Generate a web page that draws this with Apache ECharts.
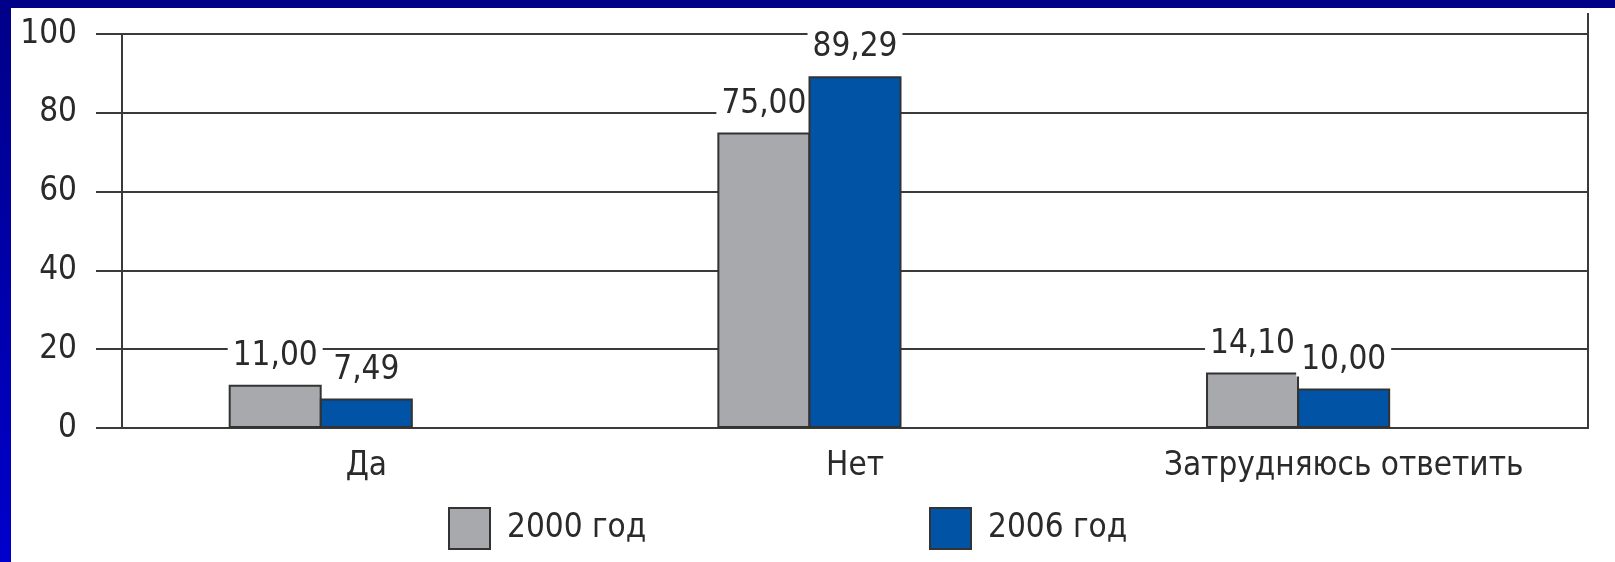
<!DOCTYPE html>
<html>
<head>
<meta charset="utf-8">
<script src="https://cdn.jsdelivr.net/npm/echarts@6/dist/echarts.min.js"></script>
<style>
    html, body {
        margin: 0;
        padding: 0;
        background: #fff;
    }
    #chart {
        position: absolute;
        left: 0;
        top: 0;
        width: 1615px;
        height: 562px;
        background: #fff;
    }
    /* синяя рамка слайда */
    .frame-left {
        position: absolute;
        left: 0;
        top: 0;
        width: 11px;
        height: 562px;
        background: linear-gradient(to bottom, #000088, #0000cc);
    }
    .frame-top {
        position: absolute;
        left: 0;
        top: 0;
        width: 1615px;
        height: 8px;
        background: #000088;
    }
</style>
</head>
<body>
<div id="chart"></div>
<div class="frame-top"></div>
<div class="frame-left"></div>
<script>
// данные
const categories = ['Да', 'Нет', 'Затрудняюсь ответить']
const values2000 = [11.00, 75.00, 14.10]
const values2006 = [7.49, 89.29, 10.00]
const yTicks = [0, 20, 40, 60, 80, 100]

const FONT = "'Liberation Sans Narrow', 'DejaVu Sans Condensed', sans-serif"
const LINE = '#3a3a3a'

const chart = echarts.init(document.getElementById('chart'))

const barLabel = {
    show: true,
    position: 'top',
    distance: 12,
    fontFamily: FONT,
    fontSize: 33,
    color: '#2a2a2a',
    backgroundColor: '#fff',
    padding: [0, 5],
    formatter: (p) => p.value.toFixed(2).replace('.', ',')
}

const legendText = {
    fontFamily: FONT,
    fontSize: 33,
    color: '#2a2a2a',
    padding: [0, 0, 0, 12]
}

chart.setOption({
    animation: false,
    textStyle: { fontFamily: FONT },
    grid: { left: 122, right: 27, top: 34, bottom: 134 },
    legend: [
        {
            data: ['2000 год'],
            left: 443,
            top: 502,
            icon: 'rect',
            itemWidth: 41,
            itemHeight: 41,
            textStyle: legendText
        },
        {
            data: ['2006 год'],
            left: 924,
            top: 502,
            icon: 'rect',
            itemWidth: 41,
            itemHeight: 41,
            textStyle: legendText
        }
    ],
    xAxis: {
        type: 'category',
        data: categories,
        axisLine: { lineStyle: { color: LINE, width: 2 } },
        axisTick: { length: 16, lineStyle: { color: LINE, width: 2 } },
        axisLabel: { fontFamily: FONT, fontSize: 33, color: '#2a2a2a', margin: 22 }
    },
    yAxis: [
        {
            type: 'value',
            min: yTicks[0],
            max: yTicks[yTicks.length - 1],
            interval: 20,
            axisLine: { show: true, lineStyle: { color: LINE, width: 2 } },
            axisTick: { show: true, length: 26, lineStyle: { color: LINE, width: 2 } },
            axisLabel: { fontFamily: FONT, fontSize: 33, color: '#2a2a2a', margin: 45 },
            splitLine: { lineStyle: { color: LINE, width: 2 } }
        },
        {
            // правая граница поля графика
            type: 'value',
            position: 'right',
            min: 0,
            max: 100,
            interval: 20,
            axisLine: { show: true, lineStyle: { color: LINE, width: 2 } },
            axisTick: { show: false },
            axisLabel: { show: false },
            splitLine: { show: false }
        }
    ],
    graphic: [
        {
            type: 'line',
            shape: { x1: 1588, y1: 13, x2: 1588, y2: 34 },
            style: { stroke: LINE, lineWidth: 2 }
        }
    ],
    series: [
        {
            name: '2000 год',
            type: 'bar',
            data: values2000,
            barWidth: 93,
            barGap: '-2%',
            itemStyle: { color: '#a7a9ac', borderColor: '#333', borderWidth: 2 },
            label: barLabel,
            z: 3
        },
        {
            name: '2006 год',
            type: 'bar',
            data: values2006,
            barWidth: 93,
            barGap: '-2%',
            itemStyle: { color: '#0053a5', borderColor: '#333', borderWidth: 2 },
            label: barLabel,
            z: 4  // поверх подписи серого столбца
        },
        {
            // пустая серия: сдвигает пару столбцов влево внутри категории, как в оригинале
            name: 'spacer',
            type: 'bar',
            data: categories.map(() => null),
            barWidth: 93,
            barGap: '-2%',
            silent: true
        }
    ]
})

window.addEventListener('resize', () => chart.resize())
</script>
</body>
</html>
